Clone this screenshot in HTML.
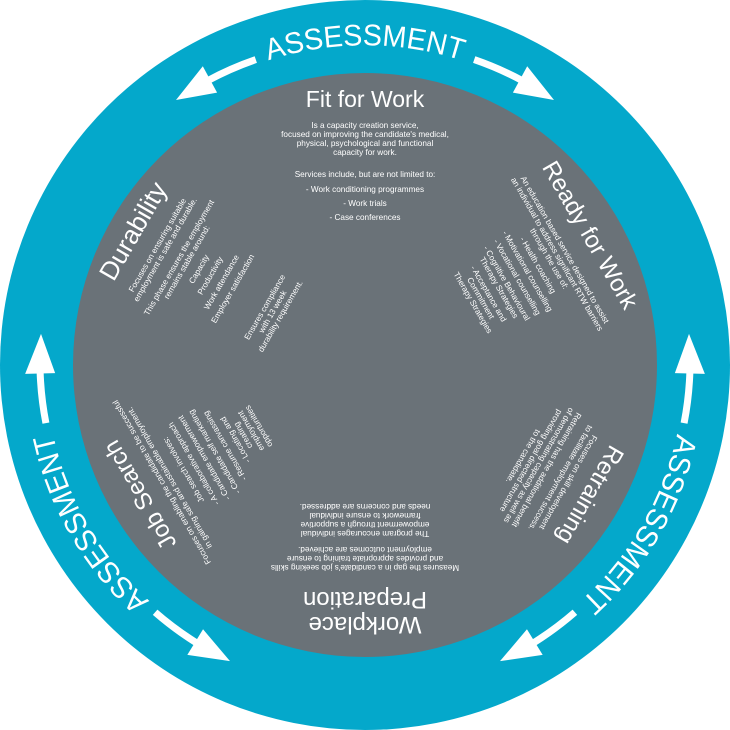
<!DOCTYPE html>
<html><head><meta charset="utf-8"><style>
html,body{margin:0;padding:0;background:#fff;width:730px;height:730px;overflow:hidden}
svg{display:block}
text{font-family:"Liberation Sans",sans-serif;fill:#fff}
.b{font-size:8.2px;text-anchor:middle}
.t{text-anchor:middle}
</style></head><body>
<svg width="730" height="730" viewBox="0 0 730 730" xmlns="http://www.w3.org/2000/svg">
<defs>
<path id="arc" d="M229 76 A316 316 0 0 1 501 76"/>
<g id="asmt">
<text style="font-size:30px"><textPath href="#arc" startOffset="50%" text-anchor="middle" textLength="196" lengthAdjust="spacingAndGlyphs">ASSESSMENT</textPath></text>
<path d="M255.8 59.6 A325 325 0 0 0 207.4 80.8" fill="none" stroke="#fff" stroke-width="7"/>
<polygon points="176,100 217.1,92.6 202.8,66.2" fill="#fff"/>
<path d="M474.2 59.6 A325 325 0 0 1 522.6 80.8" fill="none" stroke="#fff" stroke-width="7"/>
<polygon points="554,100 512.9,92.6 527.2,66.2" fill="#fff"/>
</g>
</defs>
<circle cx="365" cy="365" r="365" fill="#04a8cb"/>
<circle cx="365" cy="365" r="292" fill="#6a7278"/>
<use href="#asmt"/>
<use href="#asmt" transform="rotate(120 365 365)"/>
<use href="#asmt" transform="rotate(240 365 365)"/>

<g>
<text class="t" x="365" y="107" style="font-size:23px">Fit for Work</text>
<text class="b" x="365" y="128">Is a capacity creation service,</text>
<text class="b" x="365" y="137">focused on improving the candidate's medical,</text>
<text class="b" x="365" y="146">physical, psychological and functional</text>
<text class="b" x="365" y="155">capacity for work.</text>
<text class="b" x="365" y="177">Services include, but are not limited to:</text>
<text class="b" x="365" y="192">- Work conditioning programmes</text>
<text class="b" x="365" y="206">- Work trials</text>
<text class="b" x="365" y="220">- Case conferences</text>
</g>

<g transform="rotate(60 365 365)">
<text class="t" x="365" y="113" style="font-size:24px">Ready for Work</text>
<text class="b" x="365" y="137">An education based service designed to assist</text>
<text class="b" x="365" y="146">an individual to address significant RTW barriers</text>
<text class="b" x="365" y="155">through the use of:</text>
<text class="b" x="365" y="168">- Health coaching</text>
<text class="b" x="365" y="180">- Motivational counselling</text>
<text class="b" x="365" y="192">- Vocational counselling</text>
<text class="b" x="365" y="204">- Cognitive Behavioural</text>
<text class="b" x="365" y="213">Therapy Strategies</text>
<text class="b" x="365" y="225">- Acceptance and</text>
<text class="b" x="365" y="234">Commitment</text>
<text class="b" x="365" y="243">Therapy Strategies</text>
</g>

<g transform="rotate(120 365 365)">
<text class="t" x="365" y="113" style="font-size:24px">Retraining</text>
<text class="b" x="365" y="133">Focuses on skill development</text>
<text class="b" x="365" y="142">to facilitate employment success.</text>
<text class="b" x="365" y="158">Retraining has the additional benefit</text>
<text class="b" x="365" y="167">of demonstrating capacity as well as</text>
<text class="b" x="365" y="176">providing goal directed structure</text>
<text class="b" x="365" y="185">to the candidate.</text>
</g>

<g transform="rotate(180 365 365)">
<text class="t" x="365" y="113" style="font-size:24px">Workplace</text>
<text class="t" x="365" y="138" style="font-size:24px">Preparation</text>
<text class="b" x="365" y="165">Measures the gap in a candidate's job seeking skills</text>
<text class="b" x="365" y="174">and provides appropriate training to ensure</text>
<text class="b" x="365" y="183">employment outcomes are achieved.</text>
<text class="b" x="365" y="199">The program encourages individual</text>
<text class="b" x="365" y="208">empowerment through a supportive</text>
<text class="b" x="365" y="217">framework to ensure individual</text>
<text class="b" x="365" y="226">needs and concerns are addressed.</text>
</g>

<g transform="rotate(240 365 365)">
<text class="t" x="365" y="113" style="font-size:24px">Job Search</text>
<text class="b" x="365" y="133">Focuses on enabling the candidate to be successful</text>
<text class="b" x="365" y="142">in gaining safe and sustainable employment.</text>
<text class="b" x="365" y="158">Job search involves:</text>
<text class="b" x="365" y="170">- A collaborative approach</text>
<text class="b" x="365" y="182">- Candidate empowerment</text>
<text class="b" x="365" y="194">- Candidate self marketing</text>
<text class="b" x="365" y="206">- Resume canvassing</text>
<text class="b" x="365" y="218">- Locating and</text>
<text class="b" x="365" y="227">creating</text>
<text class="b" x="365" y="236">employment</text>
<text class="b" x="365" y="245">opportunities</text>
</g>

<g transform="rotate(-60 365 365)">
<text class="t" x="365" y="106" style="font-size:26px">Durability</text>
<text class="b" x="365" y="128">Focuses on ensuring suitable</text>
<text class="b" x="365" y="137">employment is safe and durable.</text>
<text class="b" x="365" y="153">This phase ensures the employment</text>
<text class="b" x="365" y="162">remains stable around:</text>
<text class="b" x="365" y="176">Capacity</text>
<text class="b" x="365" y="189">Productivity</text>
<text class="b" x="365" y="202">Work attendance</text>
<text class="b" x="365" y="215">Employer satisfaction</text>
<text class="b" x="365" y="252">Ensures compliance</text>
<text class="b" x="365" y="261">with 13 week</text>
<text class="b" x="365" y="270">durability requirement.</text>
</g>
</svg>
</body></html>
